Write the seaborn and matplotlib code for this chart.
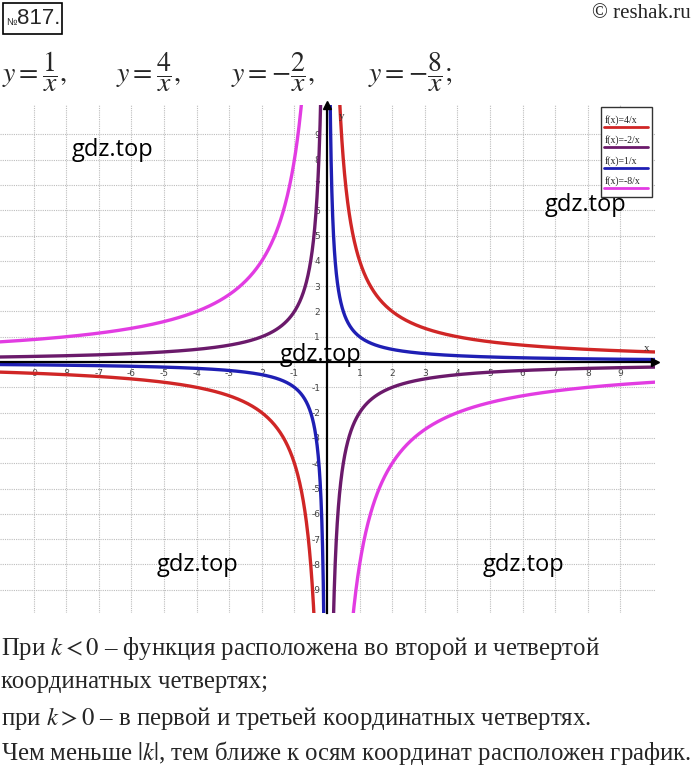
import numpy as np
import pandas as pd
import seaborn as sns
import matplotlib.pyplot as plt
from matplotlib.patches import Rectangle
from matplotlib.lines import Line2D

# ---- data ----
k_values = [4, -2, 1, -8]
labels = ["f(x)=4/x", "f(x)=-2/x", "f(x)=1/x", "f(x)=-8/x"]
colors = ["#d02626", "#6b1a6b", "#1f1fb4", "#e23ce2"]
x_ticks = [-9, -8, -7, -6, -5, -4, -3, -2, -1, 1, 2, 3, 4, 5, 6, 7, 8, 9]
y_ticks = [-9, -8, -7, -6, -5, -4, -3, -2, -1, 1, 2, 3, 4, 5, 6, 7, 8, 9]
x_pos = np.geomspace(0.03, 10.2, 500)

rows = []
for k, lab in zip(k_values, labels):
    for sgn, br in ((1, "pos"), (-1, "neg")):
        xs = sgn * x_pos
        for xv in xs:
            rows.append((lab, br, xv, k / xv))
df = pd.DataFrame(rows, columns=["label", "branch", "x", "y"])

sns.set_theme(style="white")
plt.rcParams["font.family"] = ["Liberation Serif", "DejaVu Serif"]
plt.rcParams["mathtext.fontset"] = "stix"
plt.rcParams["axes.unicode_minus"] = False

W, H = 695, 770
fig = plt.figure(figsize=(W / 100, H / 100), dpi=100)
fig.patch.set_facecolor("white")

def fx(px):
    return px / W

def fy(py):
    return 1 - py / H

ax = fig.add_axes([fx(0), fy(613), fx(655), (613 - 105) / H])
ax.set_facecolor("white")

sns.lineplot(data=df, x="x", y="y", hue="label", units="branch", estimator=None,
             sort=False, palette=dict(zip(labels, colors)), hue_order=labels,
             linewidth=2.4, legend=False, ax=ax, zorder=3)

ax.set_xlim(-10.03, 10.06)
ax.set_ylim(-9.92, 10.16)
ax.set_xlabel("")
ax.set_ylabel("")
ax.set_xticks(x_ticks)
ax.set_yticks(y_ticks)
ax.grid(True, linestyle=(0, (1, 1)), color="#bdbdbd", linewidth=0.8, zorder=0)

for s in ("top", "right"):
    ax.spines[s].set_visible(False)
ax.spines["left"].set_position(("data", 0))
ax.spines["bottom"].set_position(("data", 0))
for s in ("left", "bottom"):
    ax.spines[s].set_color("black")
    ax.spines[s].set_linewidth(1.6)
    ax.spines[s].set_zorder(4)
ax.tick_params(axis="both", direction="inout", length=6, width=1, color="black",
               labelsize=6.5, labelcolor="#444444", pad=2)
for t in ax.get_xticklabels() + ax.get_yticklabels():
    t.set_fontfamily("DejaVu Sans")

ax.plot(1, 0, ">", color="black", markersize=6, transform=ax.get_yaxis_transform(), clip_on=False, zorder=5)
ax.plot(0, 1, "^", color="black", markersize=6, transform=ax.get_xaxis_transform(), clip_on=False, zorder=5)
ax.text(9.8, 0.35, "x", fontsize=8, color="#333333", ha="center", va="bottom")
ax.text(0.45, 9.7, "y", fontsize=8, color="#333333", ha="center", va="center")

# legend box
fig.add_artist(Rectangle((fx(601), fy(197)), fx(652) - fx(601), fy(107) - fy(197),
                         transform=fig.transFigure, facecolor="white", edgecolor="#333333",
                         linewidth=1.0, zorder=10))
for i, (lab, col) in enumerate(zip(labels, colors)):
    ty = 120 + i * 20.3
    fig.text(fx(605), fy(ty), lab, fontsize=7, ha="left", va="center", color="#222222", zorder=11)
    fig.add_artist(Line2D([fx(604), fx(648)], [fy(ty + 7), fy(ty + 7)], transform=fig.transFigure,
                          color=col, linewidth=2, zorder=11))

# watermarks
for (px, py) in [(72, 150), (545, 205), (280, 355), (157, 565), (483, 565)]:
    fig.text(fx(px), fy(py), "gdz.top", fontsize=17, family="Open Sans", color="black",
             ha="left", va="center", zorder=12)

# header
fig.add_artist(Rectangle((fx(3), fy(34)), fx(59), fy(3) - fy(34), transform=fig.transFigure,
                         facecolor="none", edgecolor="black", linewidth=1.2))
fig.text(fx(6), fy(22), "№", fontsize=7, family=["Liberation Sans Narrow", "Liberation Sans"],
         ha="left", va="center")
fig.text(fx(17), fy(19), "817.", fontsize=16, family=["Liberation Sans Narrow", "Liberation Sans"],
         ha="left", va="center")
fig.text(fx(691), fy(13), "© reshak.ru", fontsize=15, ha="right", va="center")

eqs = [r"$y=\dfrac{1}{x},$", r"$y=\dfrac{4}{x},$", r"$y=-\dfrac{2}{x},$", r"$y=-\dfrac{8}{x};$"]
eq_x = [2, 116, 231, 368]
for e, px in zip(eqs, eq_x):
    fig.text(fx(px), fy(72), e, fontsize=20, ha="left", va="center")

lines = [
    (648, r"При $k<0$ – функция расположена во второй и четвертой"),
    (682, "координатных четвертях;"),
    (718, r"при $k>0$ – в первой и третьей координатных четвертях."),
    (753, r"Чем меньше $|k|$, тем ближе к осям координат расположен график."),
]
for py, s in lines:
    fig.text(fx(1), fy(py), s, fontsize=17.8, ha="left", va="center")

fig.savefig("out.png", dpi=100, facecolor="white")
